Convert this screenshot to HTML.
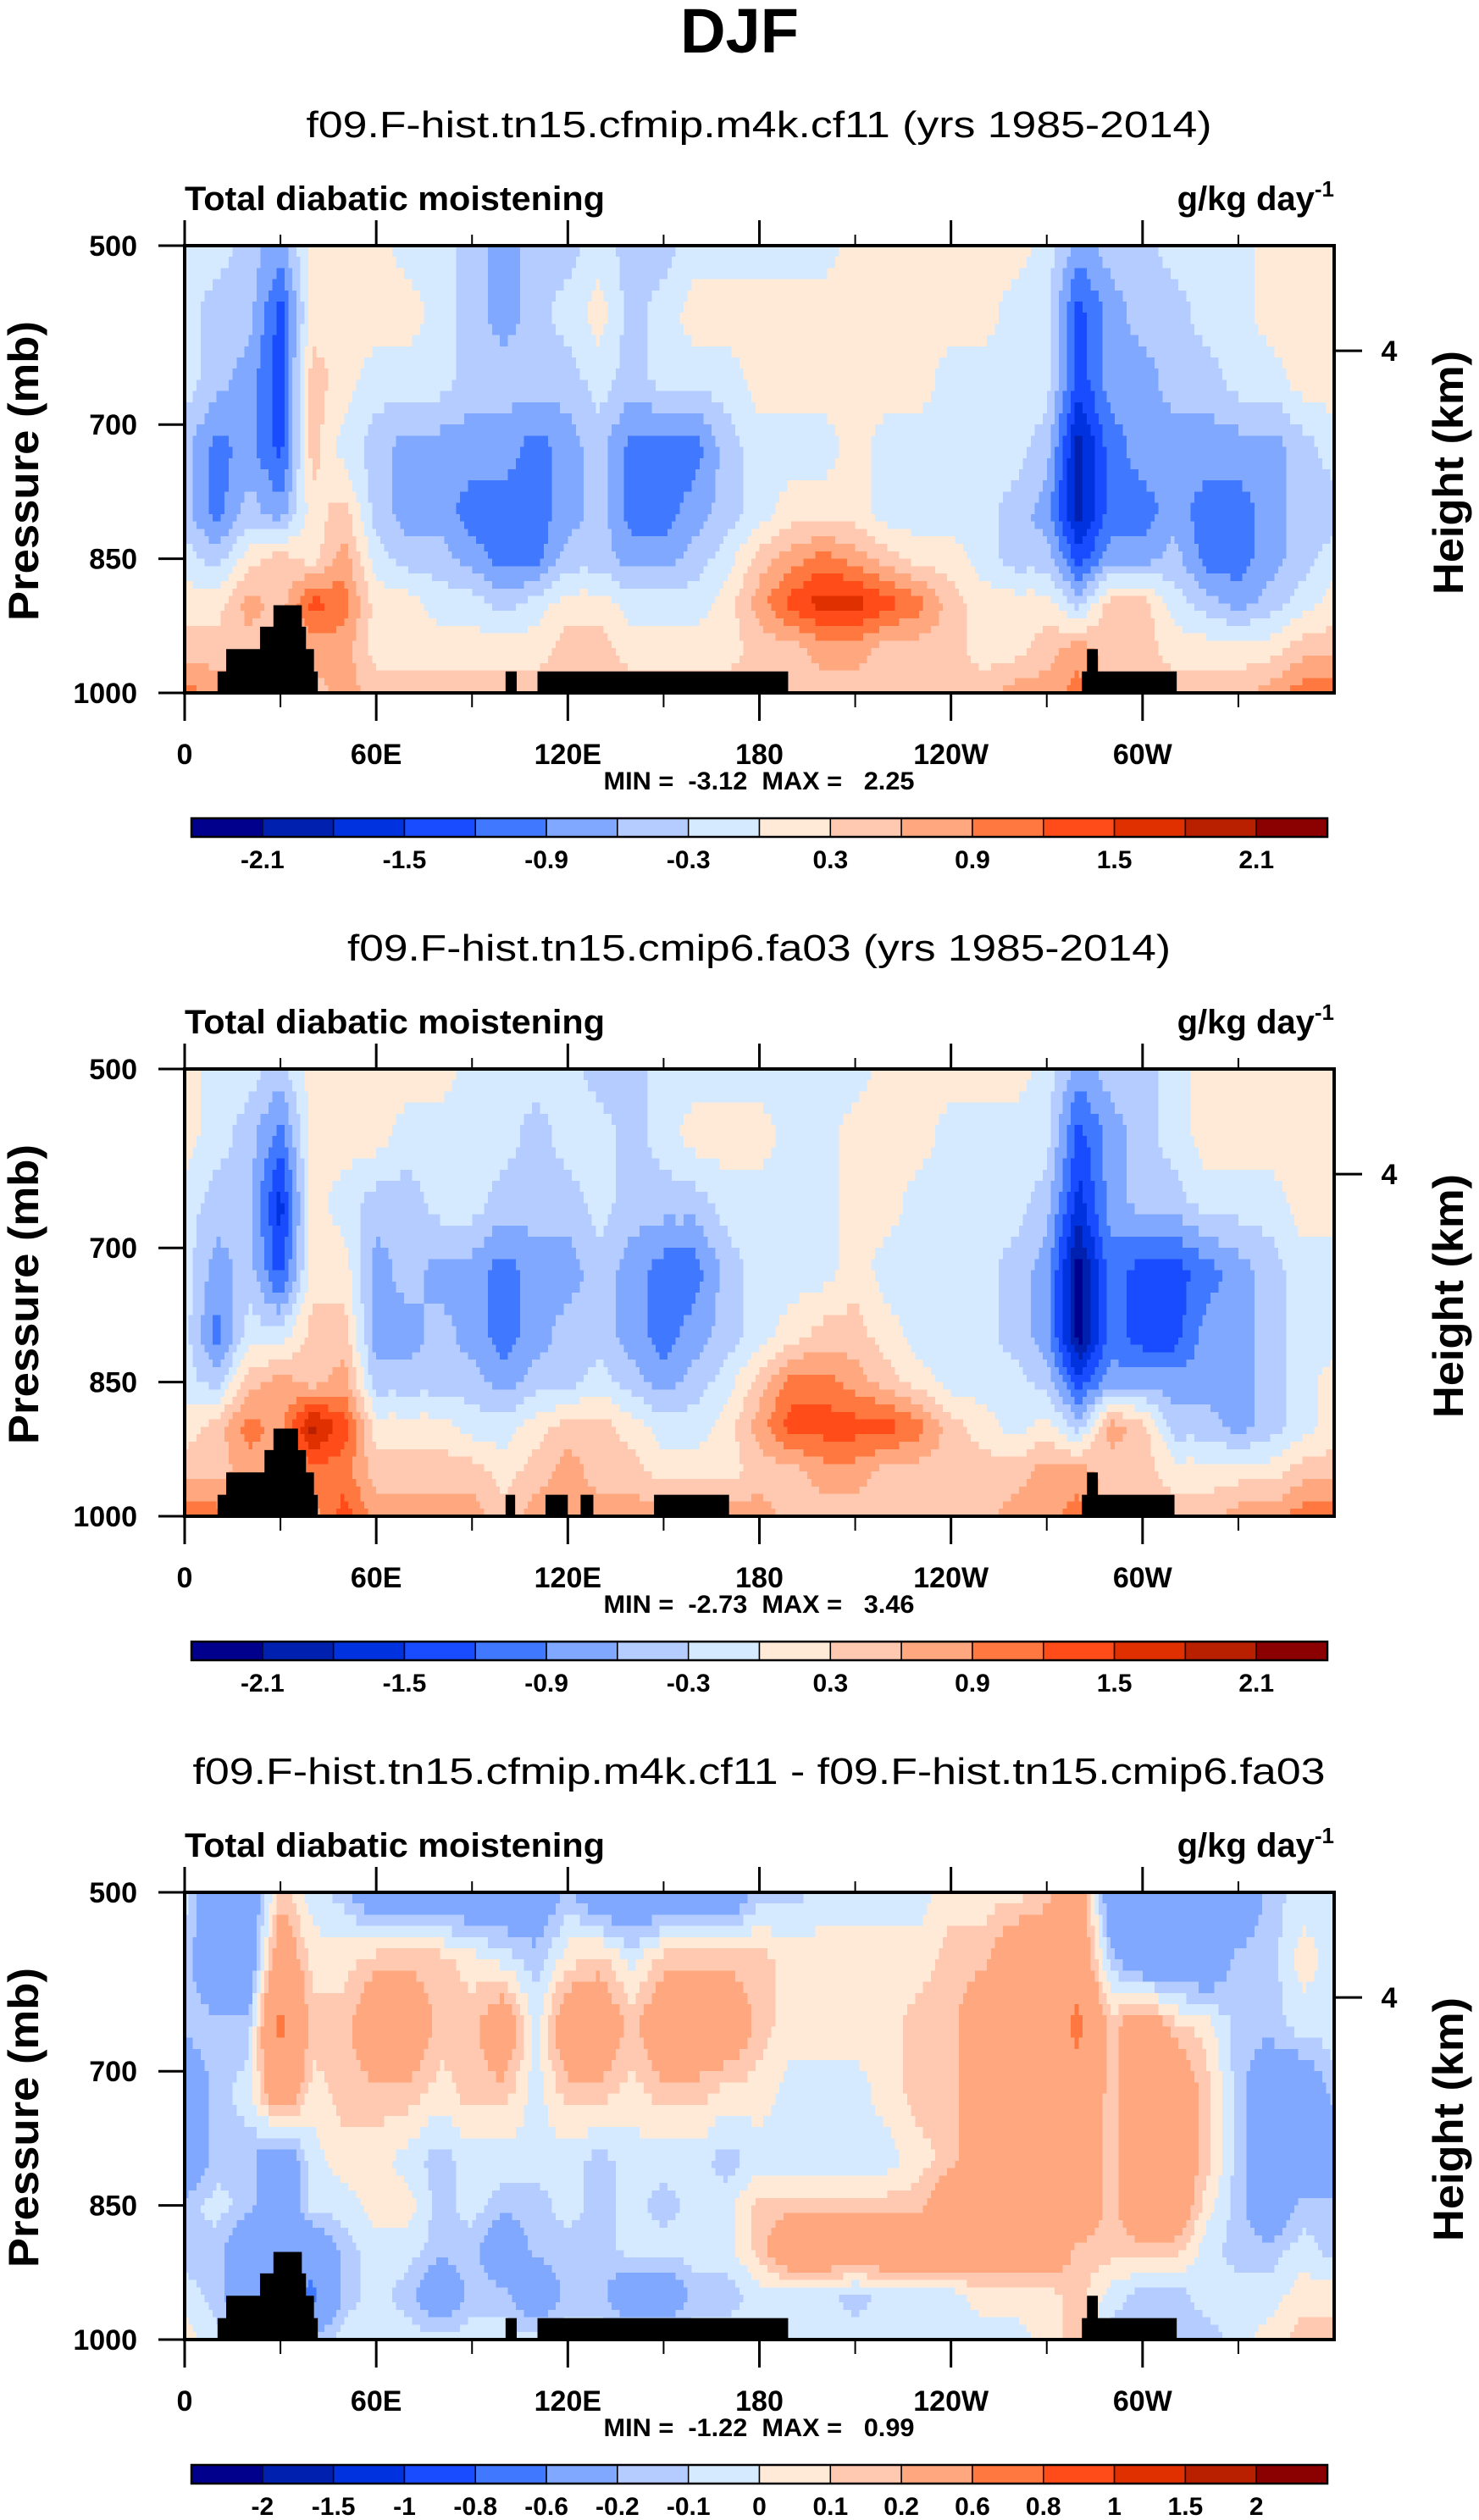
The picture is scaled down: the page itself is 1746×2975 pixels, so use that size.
<!DOCTYPE html>
<html><head><meta charset="utf-8"><title>DJF Total diabatic moistening</title>
<style>
html,body{margin:0;padding:0;background:#fff;}
svg{display:block;font-family:"Liberation Sans",Arial,sans-serif;}
</style></head>
<body>
<svg id="chart" xmlns="http://www.w3.org/2000/svg" width="1746" height="2975" viewBox="0 0 1746 2975">
<rect x="0" y="0" width="1746" height="2975" fill="#fff"/>
<text x="873" y="62" text-anchor="middle" font-size="74" font-weight="bold">DJF</text>
</svg>
<script>
// ---------- data ----------
const lons = [0,10,20,30,40,50,60,70,80,90,100,110,120,130,140,150,160,170,180,190,200,210,220,230,240,250,260,270,280,290,300,310,320,330,340,350,360];
const levels = [500,575,650,725,800,850,900,950,1000];
const xTickLons = [0,60,120,180,240,300];
const xTickLabels = ["0","60E","120E","180","120W","60W"];
const xMinorLons = [30,90,150,210,270,330];
const yTickValues = [500,700,850,1000];
const heightTickP = [617.5];
const heightTickLabels = ["4"];
const titles = ["f09.F-hist.tn15.cfmip.m4k.cf11 (yrs 1985-2014)","f09.F-hist.tn15.cmip6.fa03 (yrs 1985-2014)","f09.F-hist.tn15.cfmip.m4k.cf11 - f09.F-hist.tn15.cmip6.fa03"];
const minMaxText = ["MIN =  -3.12  MAX =   2.25","MIN =  -2.73  MAX =   3.46","MIN =  -1.22  MAX =   0.99"];
const boundsA = [-2.1,-1.8,-1.5,-1.2,-0.9,-0.6,-0.3,0,0.3,0.6,0.9,1.2,1.5,1.8,2.1];
const boundsB = [-2,-1.5,-1,-0.8,-0.6,-0.2,-0.1,0,0.1,0.2,0.6,0.8,1,1.5,2];
const labelsA = ["-2.1","","-1.5","","-0.9","","-0.3","","0.3","","0.9","","1.5","","2.1"];
const labelsB = ["-2","-1.5","-1","-0.8","-0.6","-0.2","-0.1","0","0.1","0.2","0.6","0.8","1","1.5","2"];
const palette = ["#00008C","#0020B0","#0032E0","#1A4CFF","#4078FF","#80A8FF","#B4CCFF","#D6EAFF","#FFEAD8","#FFC8B0","#FFA880","#FF7840","#FF4C18","#E03000","#B82000","#8B0000"];
// topography [lon0, lon1, pressureTop]
const topo1 = [[10.3,41.7,976],[13,40.5,951],[23.6,38,926],[27.8,36.7,902],[100.5,104,976],[110.5,189,976],[281,310.7,976],[282.6,286,951]];
const topo2 = [[10.3,41.7,976],[13,40.5,951],[25,38,926],[27.8,35.5,902],[100.5,103.5,976],[113,120,976],[124,128,976],[147,170.5,976],[281,310,976],[282.6,286,951]];
const topo3 = topo1;

const field1 = [
[-0.15,-0.15,-0.45,-0.75,0.15,0.15,0.15,-0.15,-0.15,-0.45,-0.75,-0.45,-0.45,-0.15,-0.45,-0.45,-0.15,-0.15,-0.15,-0.15,-0.15,0.15,0.15,0.15,0.15,0.15,0.15,-0.15,-0.75,-0.45,-0.45,-0.15,-0.15,-0.15,0.15,0.15,0.15],
[-0.15,-0.45,-0.45,-1.35,0.15,0.15,0.15,0.15,-0.15,-0.45,-0.75,-0.45,-0.15,0.15,-0.45,-0.15,0.15,0.15,0.15,0.15,0.15,0.15,0.15,0.15,0.15,0.15,-0.15,-0.15,-1.35,-0.75,-0.45,-0.45,-0.15,-0.15,0.15,0.15,0.15],
[-0.15,-0.45,-0.75,-1.35,0.45,0.15,-0.15,-0.15,-0.15,-0.45,-0.45,-0.45,-0.45,-0.15,-0.45,-0.15,-0.15,-0.15,0.15,0.15,0.15,0.15,0.15,0.15,-0.15,-0.15,-0.15,-0.15,-1.35,-0.75,-0.75,-0.45,-0.45,-0.15,-0.15,0.15,0.15],
[-0.45,-1.05,-0.75,-1.35,0.45,-0.15,-0.45,-0.75,-0.75,-0.75,-0.75,-1.05,-0.75,-0.45,-1.05,-1.05,-1.05,-0.45,-0.15,-0.15,-0.15,0.15,-0.15,-0.15,-0.15,-0.15,-0.15,-0.45,-1.95,-1.05,-0.75,-0.75,-0.75,-0.75,-0.75,-0.45,-0.15],
[-0.45,-1.05,-0.45,-0.75,0.15,0.45,-0.45,-0.75,-0.75,-1.05,-1.05,-1.05,-0.75,-0.45,-1.05,-1.05,-0.75,-0.45,-0.15,0.15,0.15,0.15,-0.15,-0.15,-0.15,-0.15,-0.45,-0.75,-1.95,-1.05,-1.05,-0.75,-1.05,-1.05,-0.75,-0.45,-0.45],
[-0.15,-0.45,0.15,0.45,0.15,0.75,-0.15,-0.45,-0.45,-0.75,-1.05,-1.05,-0.45,-0.45,-0.75,-0.75,-0.45,-0.15,0.45,0.75,1.05,0.75,0.45,0.15,0.15,-0.15,-0.45,-0.45,-1.35,-0.75,-0.75,-0.45,-1.05,-1.05,-0.75,-0.45,-0.15],
[0.15,0.15,0.75,0.45,1.35,1.05,0.15,0.15,-0.15,-0.15,-0.45,-0.15,0.15,0.15,-0.15,-0.15,-0.15,0.15,0.75,1.35,1.65,1.65,1.35,1.05,0.45,0.15,0.15,0.15,-0.45,0.45,0.45,-0.15,-0.45,-0.75,-0.45,-0.15,0.15],
[0.45,0.45,0.45,0.45,0.75,0.75,0.15,0.15,0.15,0.15,0.15,0.15,0.45,0.45,0.15,0.15,0.15,0.15,0.45,0.45,0.75,0.75,0.45,0.45,0.45,0.15,0.15,0.45,0.75,0.45,0.45,0.15,0.15,0.15,0.15,0.45,0.45],
[1.05,0.75,0.75,0.45,0.45,0.75,0.45,0.45,0.45,0.45,0.45,0.45,0.45,0.45,0.45,0.45,0.45,0.45,0.45,0.45,0.45,0.45,0.45,0.45,0.45,0.45,0.75,0.75,1.05,0.45,0.45,0.45,0.45,0.45,0.75,1.05,1.05]
];
const field2 = [
[0.15,-0.15,-0.15,-0.45,0.15,0.15,0.15,0.15,0.15,-0.15,-0.15,-0.15,-0.15,-0.45,-0.45,-0.15,-0.15,-0.15,-0.15,-0.15,-0.15,-0.15,0.15,0.15,0.15,0.15,0.15,-0.15,-0.75,-0.45,-0.45,-0.15,0.15,0.15,0.15,0.15,0.15],
[0.15,-0.15,-0.45,-1.05,0.15,0.15,0.15,-0.15,-0.15,-0.15,-0.15,-0.45,-0.15,-0.15,-0.45,-0.15,0.15,0.15,0.15,-0.15,-0.15,0.15,0.15,0.15,-0.15,-0.15,-0.15,-0.15,-1.35,-0.75,-0.45,-0.15,0.15,0.15,0.15,0.15,0.15],
[-0.15,-0.45,-0.45,-1.65,0.15,-0.15,-0.45,-0.45,-0.15,-0.15,-0.45,-0.45,-0.45,-0.15,-0.45,-0.45,-0.45,-0.15,-0.15,-0.15,-0.15,0.15,0.15,-0.15,-0.15,-0.15,-0.15,-0.45,-1.65,-0.75,-0.45,-0.45,-0.15,-0.15,-0.15,0.15,0.15],
[-0.15,-0.75,-0.45,-1.35,0.15,0.15,-0.75,-0.45,-0.75,-0.75,-1.05,-0.75,-0.75,-0.45,-0.75,-1.05,-1.05,-0.45,-0.15,-0.15,-0.15,0.15,-0.15,-0.15,-0.15,-0.15,-0.45,-0.75,-2.25,-1.05,-1.35,-1.35,-1.05,-0.75,-0.45,-0.15,-0.15],
[-0.15,-1.05,-0.15,-0.15,0.45,0.45,-0.75,-0.75,-0.45,-0.75,-1.05,-0.75,-0.45,-0.45,-0.75,-1.05,-0.75,-0.45,-0.15,0.15,0.45,0.45,0.15,-0.15,-0.15,-0.15,-0.45,-0.75,-2.25,-1.05,-1.35,-1.35,-0.75,-0.75,-0.45,-0.15,-0.15],
[-0.15,-0.45,0.45,0.75,0.45,0.75,-0.45,-0.45,-0.45,-0.45,-0.75,-0.45,-0.45,-0.15,-0.45,-0.75,-0.45,-0.15,0.45,1.05,1.05,0.75,0.45,0.15,-0.15,-0.15,-0.15,-0.45,-1.35,-0.75,-0.75,-0.75,-0.75,-0.75,-0.45,-0.15,0.15],
[0.15,0.45,1.05,0.75,1.95,1.35,0.15,0.15,0.15,-0.15,-0.15,0.15,0.45,0.45,0.15,-0.15,-0.15,0.15,0.75,1.35,1.35,1.35,1.35,1.05,0.45,0.15,-0.15,0.15,-0.45,0.75,0.45,-0.45,-0.45,-0.75,-0.45,-0.15,0.15],
[0.45,0.45,0.75,0.75,1.05,1.05,0.45,0.45,0.45,0.45,0.15,0.45,0.75,0.45,0.45,0.15,0.15,0.15,0.45,0.45,0.75,0.75,0.45,0.45,0.45,0.45,0.45,0.75,0.75,0.45,0.45,0.15,0.15,0.15,0.15,0.45,0.45],
[1.05,1.05,0.75,0.75,0.75,1.35,0.75,0.75,0.75,0.75,0.45,0.75,0.75,0.75,0.75,0.75,0.75,0.75,0.75,0.45,0.45,0.45,0.45,0.45,0.45,0.45,0.75,0.75,1.05,0.45,0.45,0.45,0.45,0.75,0.75,1.05,1.05]
];
const field3 = [
[-0.05,-0.4,-0.4,0.15,-0.05,-0.15,-0.4,-0.4,-0.4,-0.4,-0.4,-0.4,-0.15,-0.4,-0.4,-0.4,-0.4,-0.4,-0.15,-0.15,-0.05,-0.05,-0.05,-0.05,0.05,0.05,0.05,0.15,0.4,-0.4,-0.4,-0.4,-0.4,-0.4,-0.15,-0.05,-0.05],
[-0.15,-0.4,-0.4,0.4,0.05,0.05,0.15,0.15,0.15,0.05,-0.05,-0.15,0.05,0.15,-0.05,0.15,0.15,0.15,0.15,0.05,0.05,0.05,0.05,0.05,0.15,0.15,0.4,0.4,0.4,-0.15,-0.4,-0.4,-0.4,-0.15,-0.15,0.05,-0.05],
[-0.15,-0.15,-0.15,0.7,0.15,0.15,0.4,0.4,0.15,0.15,0.4,-0.05,0.4,0.4,0.15,0.4,0.4,0.4,0.15,0.05,0.05,0.05,0.05,0.15,0.15,0.4,0.4,0.4,0.7,0.15,0.4,0.15,0.05,-0.15,-0.15,-0.05,-0.05],
[-0.4,-0.15,-0.05,0.4,0.05,0.15,0.15,0.15,0.05,0.15,0.15,-0.05,0.15,0.15,0.05,0.15,0.15,0.05,0.05,-0.05,-0.05,-0.05,0.05,0.15,0.15,0.4,0.4,0.4,0.4,0.15,0.4,0.4,0.15,-0.15,-0.4,-0.4,-0.15],
[-0.4,-0.15,-0.15,-0.4,-0.05,0.05,0.05,-0.05,-0.15,-0.05,-0.05,-0.05,-0.05,-0.15,-0.05,-0.05,-0.05,-0.15,-0.05,-0.05,-0.05,-0.05,-0.05,0.05,0.15,0.4,0.4,0.4,0.4,0.15,0.4,0.4,0.15,-0.15,-0.4,-0.4,-0.4],
[-0.15,-0.05,-0.15,-0.4,-0.05,-0.05,0.05,0.05,-0.15,-0.05,-0.15,-0.15,-0.05,-0.15,-0.05,-0.15,-0.05,-0.05,0.15,0.15,0.15,0.15,0.15,0.15,0.4,0.4,0.4,0.4,0.4,0.15,0.4,0.4,0.05,-0.15,-0.4,-0.15,-0.15],
[-0.15,-0.15,-0.4,-0.4,-0.4,-0.15,-0.05,-0.05,-0.15,-0.15,-0.4,-0.15,-0.15,-0.15,-0.05,-0.05,-0.05,-0.05,0.15,0.4,0.4,0.4,0.4,0.4,0.4,0.4,0.4,0.4,0.15,0.15,0.15,0.15,-0.05,-0.15,-0.15,-0.05,-0.15],
[-0.05,-0.15,-0.4,-0.4,-0.7,-0.15,-0.05,-0.15,-0.4,-0.15,-0.15,-0.4,-0.15,-0.15,-0.4,-0.4,-0.15,-0.15,-0.05,-0.05,-0.05,-0.15,-0.05,-0.05,-0.05,0.05,0.05,0.05,0.15,-0.05,-0.15,-0.15,-0.05,-0.05,-0.05,0.05,0.05],
[0.05,-0.05,-0.15,-0.15,-0.15,-0.05,-0.05,-0.05,-0.05,-0.05,-0.05,-0.05,-0.05,-0.05,-0.05,-0.05,-0.05,-0.05,-0.05,-0.05,-0.05,-0.05,-0.05,-0.05,-0.05,-0.05,-0.05,0.05,0.15,-0.15,-0.15,-0.15,-0.15,-0.05,0.05,0.15,0.15]
];

// ---------- drawing ----------
const NS = "http://www.w3.org/2000/svg";
const svg = document.getElementById("chart");
const PX0 = 218, PX1 = 1575, PY0 = 290, PY1 = 818, PANEL_DY = 972;
function xScale(lon){ return PX0 + (lon/360)*(PX1-PX0); }
function yScale(p, off){ return off + PY0 + (p-500)/500*(PY1-PY0); }
function mk(tag, attrs, parent){
  const e = document.createElementNS(NS, tag);
  for (const k in attrs) e.setAttribute(k, attrs[k]);
  (parent||svg).appendChild(e);
  return e;
}
function classOf(v, bounds){ let k=0; while(k<bounds.length && v>=bounds[k]) k++; return k; }
function sample(field, lon, p){
  let i = Math.min(Math.floor(lon/10), lons.length-2);
  let j = 0; while (j < levels.length-2 && p > levels[j+1]) j++;
  const tx = (lon - lons[i])/(lons[i+1]-lons[i]);
  const ty = (p - levels[j])/(levels[j+1]-levels[j]);
  const a = field[j][i], b = field[j][i+1], c = field[j+1][i], d = field[j+1][i+1];
  return (a*(1-tx)+b*tx)*(1-ty) + (c*(1-tx)+d*tx)*ty;
}

function drawPanel(idx, field, bounds, cbLabels, topo){
  const off = idx*PANEL_DY;
  const g = mk("g", {});
  
  
  const t = mk("text", {x:896, y:off+162, "text-anchor":"middle", "font-size":44}, g);
  
  
  t.textContent = titles[idx];
  const wl = [1069, 972, 1337][idx];
  t.setAttribute("textLength", wl); t.setAttribute("lengthAdjust", "spacingAndGlyphs");
  const lt = mk("text", {x:218, y:off+248, "font-size":40, "font-weight":"bold", textLength:496, lengthAdjust:"spacingAndGlyphs"}, g);
  
  
  lt.textContent = "Total diabatic moistening";
  const ut = mk("text", {x:1575, y:off+248, "font-size":40, "font-weight":"bold", "text-anchor":"end"}, g);
  
  
  ut.innerHTML = 'g/kg day<tspan font-size="26" dy="-16">-1</tspan>';

  // contour field
  const fg = mk("g", {"shape-rendering":"crispEdges"}, g);
  
  
  const NX = 288, SUB = 6;
  const dl = 360/NX;
  for (let j=0; j<levels.length-1; j++){
    for (let s=0; s<SUB; s++){
      const p0 = levels[j] + (levels[j+1]-levels[j])*s/SUB;
      const p1 = levels[j] + (levels[j+1]-levels[j])*(s+1)/SUB;
      const pm = (p0+p1)/2;
      const y0 = yScale(p0, off), y1 = yScale(p1, off);
      let runStart = 0, runCls = classOf(sample(field, dl/2, pm), bounds);
      for (let i=1; i<=NX; i++){
        const cls = i<NX ? classOf(sample(field, (i+0.5)*dl, pm), bounds) : -1;
        if (cls !== runCls){
          const x0 = xScale(runStart*dl), x1 = xScale(i*dl);
          const r = mk("rect", {x:x0.toFixed(2), y:y0.toFixed(2), width:(x1-x0+0.6).toFixed(2), height:(y1-y0+0.6).toFixed(2), fill:palette[runCls]}, fg);
          
          
          runStart = i; runCls = cls;
        }
      }
    }
  }
  // topography
  topo.forEach(tp => {
    const r = mk("rect", {x:xScale(tp[0]), y:yScale(tp[2], off), width:xScale(tp[1])-xScale(tp[0]), height:yScale(1000,off)-yScale(tp[2],off), fill:"#000"}, g);
    
    
  });
  // frame
  const fr = mk("rect", {x:PX0, y:off+PY0, width:PX1-PX0, height:PY1-PY0, fill:"none", stroke:"#000", "stroke-width":4}, g);
  
  
  // x ticks
  xTickLons.forEach((lon, k) => {
    const x = xScale(lon);
    const a = mk("line", {x1:x, x2:x, y1:off+PY0, y2:off+260, stroke:"#000", "stroke-width":3}, g);
    
    
    const b = mk("line", {x1:x, x2:x, y1:off+PY1, y2:off+851, stroke:"#000", "stroke-width":3}, g);
    
    
    const tl = mk("text", {x:x, y:off+902, "text-anchor":"middle", "font-size":34, "font-weight":"bold"}, g);
    
    
    tl.textContent = xTickLabels[k];
  });
  xMinorLons.forEach(lon => {
    const x = xScale(lon);
    const a = mk("line", {x1:x, x2:x, y1:off+PY0, y2:off+277, stroke:"#000", "stroke-width":2}, g);
    
    
    const b = mk("line", {x1:x, x2:x, y1:off+PY1, y2:off+835, stroke:"#000", "stroke-width":2}, g);
    
    
  });
  // y ticks
  yTickValues.forEach(p => {
    const y = yScale(p, off);
    const a = mk("line", {x1:187, x2:PX0, y1:y, y2:y, stroke:"#000", "stroke-width":3}, g);
    
    
    const tl = mk("text", {x:162, y:y+12, "text-anchor":"end", "font-size":34, "font-weight":"bold"}, g);
    
    
    tl.textContent = String(p);
  });
  heightTickP.forEach((p, k) => {
    const y = yScale(p, off);
    const a = mk("line", {x1:PX1, x2:1608, y1:y, y2:y, stroke:"#000", "stroke-width":3}, g);
    
    
    const tl = mk("text", {x:1640, y:y+12, "text-anchor":"middle", "font-size":34, "font-weight":"bold"}, g);
    
    
    tl.textContent = heightTickLabels[k];
  });
  const yl = mk("text", {x:0, y:0, "text-anchor":"middle", "font-size":50, "font-weight":"bold", transform:"translate(45,"+(off+556)+") rotate(-90)", textLength:354, lengthAdjust:"spacingAndGlyphs"}, g);
  
  
  yl.textContent = "Pressure (mb)";
  const hl = mk("text", {x:0, y:0, "text-anchor":"middle", "font-size":50, "font-weight":"bold", transform:"translate(1727,"+(off+558)+") rotate(-90)", textLength:288, lengthAdjust:"spacingAndGlyphs"}, g);
  
  
  hl.textContent = "Height (km)";
  const mm = mk("text", {x:896, y:off+932, "text-anchor":"middle", "font-size":30, "font-weight":"bold", textLength:367, lengthAdjust:"spacingAndGlyphs", style:"white-space:pre"}, g);
  
  
  mm.textContent = minMaxText[idx];
  // colorbar
  const CB0 = 226, CB1 = 1567, cw = (CB1-CB0)/16;
  const cb = mk("g", {}, g);
  
  
  palette.forEach((c, k) => {
    const r = mk("rect", {x:CB0+k*cw, y:off+966, width:cw, height:22, fill:c, stroke:"#000", "stroke-width":1.5}, cb);
    
    
  });
  const cbf = mk("rect", {x:CB0, y:off+966, width:CB1-CB0, height:22, fill:"none", stroke:"#000", "stroke-width":2.5}, cb);
  
  
  cbLabels.forEach((lab, k) => {
    if (!lab) return;
    const tl = mk("text", {x:CB0+(k+1)*cw, y:off+1025, "text-anchor":"middle", "font-size":30, "font-weight":"bold"}, cb);
    
    
    tl.textContent = lab;
  });
}
drawPanel(0, field1, boundsA, labelsA, topo1);
drawPanel(1, field2, boundsA, labelsA, topo2);
drawPanel(2, field3, boundsB, labelsB, topo3);
</script>
</body></html>
